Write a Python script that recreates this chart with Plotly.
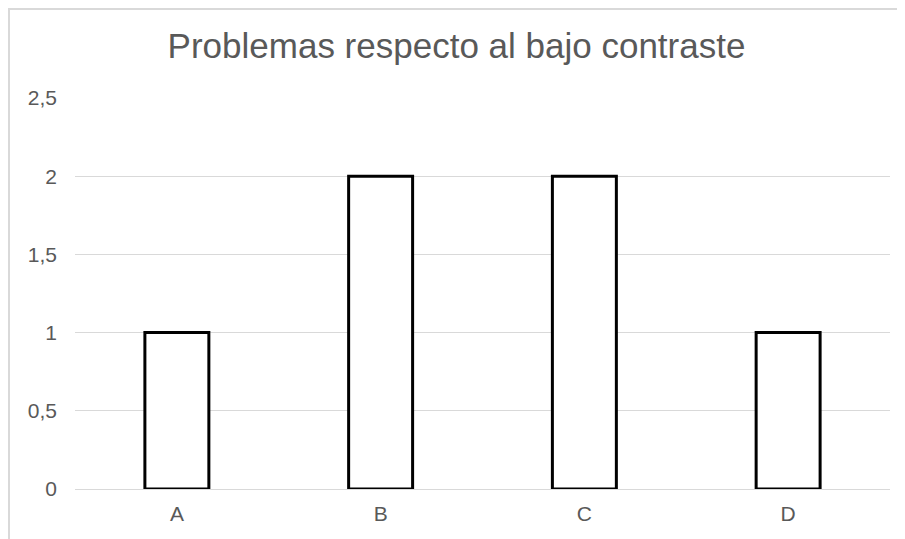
import plotly.graph_objects as go

categories = ["A", "B", "C", "D"]
values = [1, 2, 2, 1]
tick_vals = [0, 0.5, 1, 1.5, 2, 2.5]
tick_text = ["0", "0,5", "1", "1,5", "2", "2,5"]

# the page body adds an 8px offset, so the figure is sized to fit what remains
W, H = 897, 531
L, R, T, B = 67, 15, 90, 50
plot_w = W - L - R
plot_h = H - T - B

fig = go.Figure()
fig.add_trace(go.Bar(
    x=categories, y=values,
    marker=dict(color="white", line=dict(color="black", width=3)),
))

# light chart-area frame (only the top and left edges are in view)
fig.add_shape(type="rect", xref="paper", yref="paper",
              x0=-(L - 1) / plot_w, y0=-(B + 20) / plot_h,
              x1=1 + (R + 20) / plot_w, y1=1 + (T - 1) / plot_h,
              line=dict(color="#d9d9d9", width=2), layer="below")

fig.update_layout(
    width=W, height=H,
    margin=dict(l=L, r=R, t=T, b=B),
    paper_bgcolor="white", plot_bgcolor="white",
    font=dict(family="Liberation Sans, Arial, sans-serif", color="#595959", size=21),
    title=dict(text="Problemas respecto al bajo contraste", x=0.5, xanchor="center",
               yref="container", y=1 - 38 / H, yanchor="middle",
               font=dict(size=35, color="#595959")),
    bargap=0.686,
    showlegend=False,
    xaxis=dict(showline=False, ticks="", tickfont=dict(size=21), ticklabelstandoff=10),
    yaxis=dict(range=[0, 2.5], tickvals=tick_vals, ticktext=tick_text,
               showgrid=True, gridcolor="#d9d9d9", gridwidth=1,
               zeroline=True, zerolinecolor="#d9d9d9", zerolinewidth=1,
               ticks="", ticklabelstandoff=17, tickfont=dict(size=21)),
)

fig.write_html("out.html")
